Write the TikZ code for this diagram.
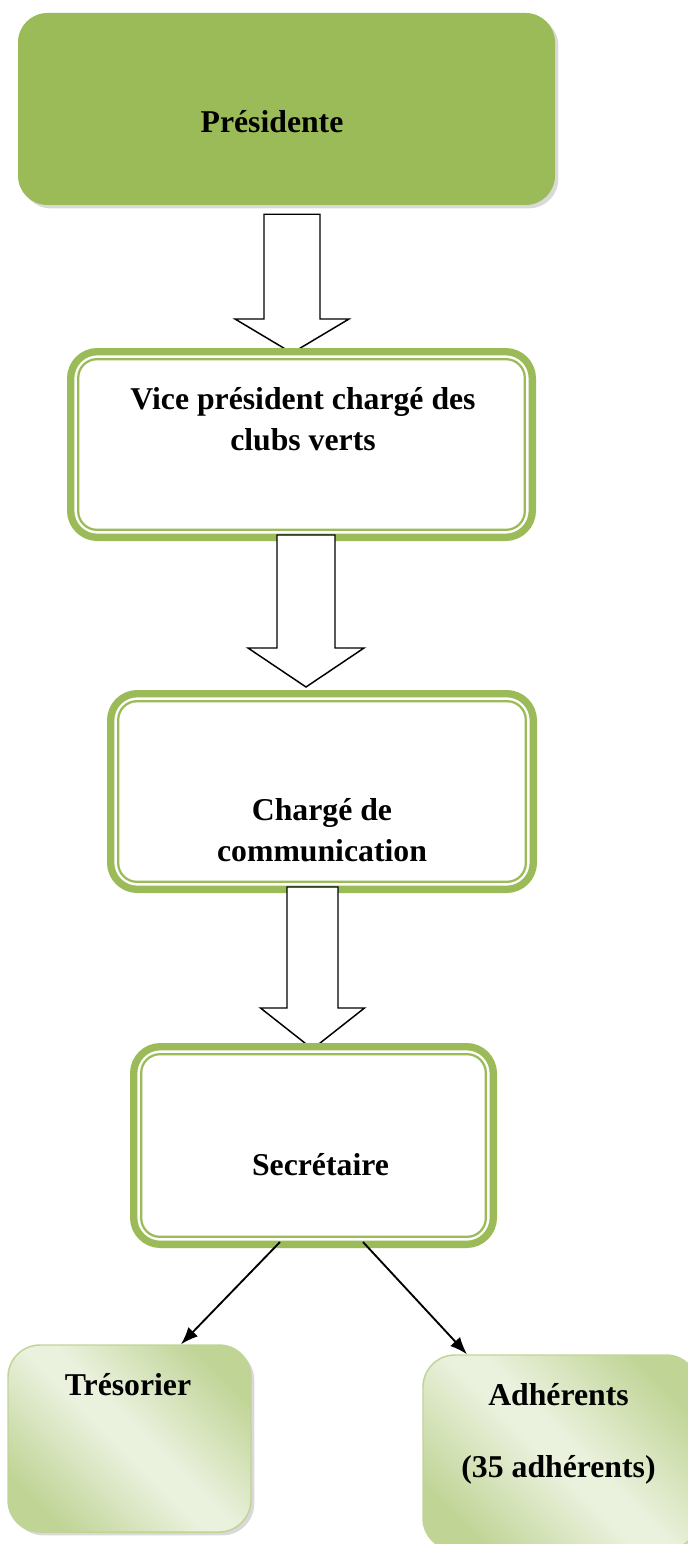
\documentclass[tikz,border=0pt]{standalone}
\usepackage{fontspec}
\setmainfont{Liberation Serif}
\usetikzlibrary{calc,shadows,arrows.meta}

\definecolor{olive}{RGB}{155,187,89}
\definecolor{palegreen}{RGB}{192,212,150}
\definecolor{lightgreen}{RGB}{234,241,221}

\pgfdeclareverticalshading{leafshade}{100bp}{color(0bp)=(palegreen); color(24bp)=(palegreen); color(47bp)=(lightgreen);
  color(53bp)=(lightgreen); color(76bp)=(palegreen); color(100bp)=(palegreen)}

\tikzset{
  titlebox/.style={fill=olive, draw=none, rounded corners=22pt, minimum width=402.75pt, minimum height=144pt,
    drop shadow={opacity=0.3, shadow xshift=2.5pt, shadow yshift=-2.5pt}},
  framebox/.style={draw=olive, fill=white, line width=5.5pt, rounded corners=20pt},
  innerframe/.style={draw=olive, line width=1.7pt, rounded corners=14pt},
  leafbox/.style={draw=palegreen, line width=1.1pt, rounded corners=24pt,
    shading=leafshade, shading angle=-45,
    drop shadow={opacity=0.3, shadow xshift=2.5pt, shadow yshift=-2.5pt}},
  hollow/.style={draw=black, fill=white, line width=1.1pt, line join=miter},
  link/.style={-{Latex[length=13pt,width=10pt]}, line width=1.4pt},
  boxtext/.style={font=\fontsize{23.8}{31}\selectfont\bfseries, align=center, inner sep=0pt}
}

\begin{document}
\begin{tikzpicture}[x=0.75pt,y=0.75pt,yscale=-1,xscale=1]
\useasboundingbox (0,0) rectangle (688,1544);

%Rounded Rect
\node[titlebox] (pres) at (286.5,109) {};
% Text Node
\node[boxtext] (presText) at ($(pres)+(-14.5,13)$) {Présidente};

%Block Arrow
\coordinate (t1) at (292,353);
\draw[hollow] ($(t1 |- pres.south)+(-28,9)$) -- ($(t1 |- pres.south)+(28,9)$) -- ($(t1)+(28,-34)$) -- ($(t1)+(57,-34)$)
  -- (t1) -- ($(t1)+(-57,-34)$) -- ($(t1)+(-28,-34)$) -- cycle;

%Rounded Rect
\node[framebox, minimum width=346.25pt, minimum height=139.25pt] (vp) at (301.5,444.5) {};
\draw[innerframe] ($(vp.north west)+(11.2,11.2)$) rectangle ($(vp.south east)+(-11.2,-11.2)$);
% Text Node
\node[boxtext] (vpText) at ($(vp)+(1.5,-25)$) {Vice président chargé des\\clubs verts};

%Block Arrow
\coordinate (t2) at (306,687);
\draw[hollow] ($(t2 |- vp.south)+(-29,-6)$) -- ($(t2 |- vp.south)+(29,-6)$) -- ($(t2)+(29,-39)$) -- ($(t2)+(58,-39)$)
  -- (t2) -- ($(t2)+(-58,-39)$) -- ($(t2)+(-29,-39)$) -- cycle;

%Rounded Rect
\node[framebox, minimum width=317pt, minimum height=146.75pt] (comm) at (322,791.5) {};
\draw[innerframe] ($(comm.north west)+(11.2,11.2)$) rectangle ($(comm.south east)+(-11.2,-11.2)$);
% Text Node
\node[boxtext] (commText) at ($(comm)+(0,38.5)$) {Chargé de\\communication};

%Block Arrow
\coordinate (t3) at (312.5,1049);
\draw[hollow] ($(t3 |- comm.south)+(-25.5,-6)$) -- ($(t3 |- comm.south)+(25.5,-6)$) -- ($(t3)+(25.5,-41)$) -- ($(t3)+(52,-41)$)
  -- (t3) -- ($(t3)+(-52,-41)$) -- ($(t3)+(-25.5,-41)$) -- cycle;

%Rounded Rect
\node[framebox, minimum width=269.75pt, minimum height=148.25pt] (secr) at (313.5,1145.5) {};
\draw[innerframe] ($(secr.north west)+(11.2,11.2)$) rectangle ($(secr.south east)+(-11.2,-11.2)$);
% Text Node
\node[boxtext] (secrText) at ($(secr)+(7,19.5)$) {Secrétaire};

%Rounded Rect
\node[leafbox, minimum width=182.25pt, minimum height=140.25pt] (tres) at (129.5,1438.5) {};
% Text Node
\node[boxtext] (tresText) at ($(tres)+(-1.5,-53.5)$) {Trésorier};

%Rounded Rect
\node[leafbox, minimum width=206.25pt, minimum height=146.25pt] (adh) at (560.5,1452.5) {};
% Text Node
\node[boxtext] (adhText) at ($(adh)+(-2,-18.5)$) {Adhérents\\[23pt](35 adhérents)};

%Straight Lines
\draw[link] ($(secr.south)+(-33.5,-6)$) -- ($(tres.north)+(51.5,0)$);
\draw[link] ($(secr.south)+(49.5,-6)$) -- ($(adh.north)+(-93.5,0)$);

\end{tikzpicture}
\end{document}
